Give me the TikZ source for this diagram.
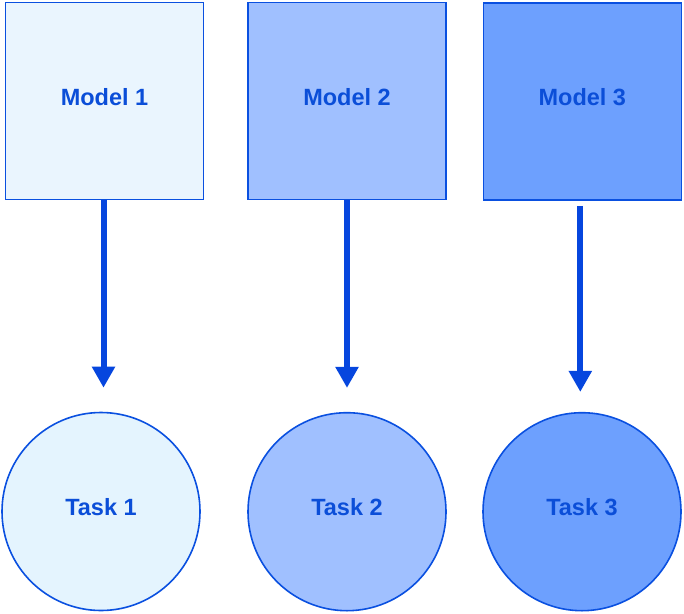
\documentclass[tikz,border=0pt]{standalone}
\usepackage{fontspec}
\setmainfont{Liberation Sans}
\usetikzlibrary{arrows.meta}

\definecolor{inkblue}{HTML}{0B4ED8}
\definecolor{edgeblue}{HTML}{0A50E0}
\definecolor{arrowblue}{HTML}{0646DE}
\definecolor{paleA}{HTML}{EAF5FE}
\definecolor{paleC}{HTML}{E4F4FE}
\definecolor{midblue}{HTML}{A0C0FF}
\definecolor{deepblue}{HTML}{6DA0FE}

\tikzset{
  base/.style={draw=edgeblue, line width=1.6pt, text=inkblue,
    font=\fontsize{23.5}{27}\selectfont\bfseries, inner sep=0pt,
    text depth=9pt},
  modelbox/.style={base, rectangle, minimum width=198pt, minimum height=197pt},
  taskcircle/.style={base, circle, minimum size=198pt},
  flow/.style={draw=arrowblue, line width=6pt,
    -{Triangle[width=22pt,length=21pt]}},
}

\begin{document}
\begin{tikzpicture}[x=1pt, y=-1pt]
  \useasboundingbox (0,0) rectangle (684,613);

  % models
  \node[modelbox, fill=paleA]    (m1) at (104.5,101) {Model 1};
  \node[modelbox, fill=midblue]  (m2) at (347,101)   {Model 2};
  \node[modelbox, fill=deepblue] (m3) at (582.3,101.5) {Model 3};

  % tasks
  \node[taskcircle, fill=paleC]    (t1) at (101,511.5) {Task 1};
  \node[taskcircle, fill=midblue]  (t2) at (347,511.7) {Task 2};
  \node[taskcircle, fill=deepblue] (t3) at (582,511.7) {Task 3};

  % each model feeds its task
  \draw[flow, shorten >=24pt] ([xshift=-1pt]m1.south) -- ([xshift=-1pt]m1.south |- t1.north);
  \draw[flow, shorten >=24pt] (m2.south) -- (m2.south |- t2.north);
  \draw[flow, shorten <=5pt, shorten >=20pt] ([xshift=-2pt]m3.south) -- ([xshift=-2pt]m3.south |- t3.north);
\end{tikzpicture}
\end{document}
